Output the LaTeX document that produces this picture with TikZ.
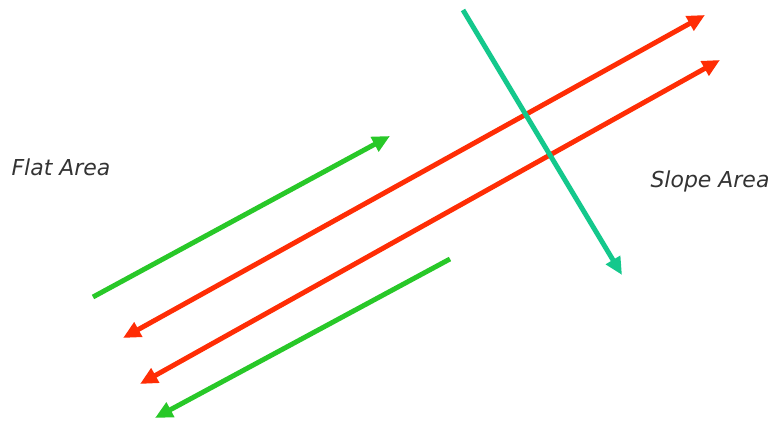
\documentclass[tikz,border=0pt]{standalone}
\usepackage{fontspec}
\setsansfont{DejaVu Sans}
\usetikzlibrary{arrows.meta}
\definecolor{rouge}{RGB}{255,45,5}
\definecolor{vert}{RGB}{40,200,40}
\definecolor{turquoise}{RGB}{20,200,140}
\tikzset{
  fleche/.style={line width=2.8pt,-{Triangle[length=10pt,width=9pt]}},
  double fleche/.style={line width=2.8pt,{Triangle[length=10pt,width=9pt]}-{Triangle[length=10pt,width=9pt]}},
  zone/.style={font=\sffamily\itshape\fontsize{12.5}{14}\selectfont,text=black!80}
}
\begin{document}
\begin{tikzpicture}[scale=1]
\useasboundingbox (0,0) rectangle (15.38,8.5);%cadre
\node[zone] (plat) at (1.22,5.16){Flat Area};
\node[zone] (pente) at (14.2,4.88){Slope Area};
%extremites des fleches
\coordinate (v1a) at (1.86,2.56);
\coordinate (v1b) at (7.80,5.78);
\coordinate (r1a) at (2.46,1.74);
\coordinate (r1b) at (14.10,8.20);
\coordinate (r2a) at (2.80,0.82);
\coordinate (r2b) at (14.40,7.30);
\coordinate (v2a) at (9.00,3.32);
\coordinate (v2b) at (3.10,0.14);
\coordinate (ta) at (9.26,8.30);
\coordinate (tb) at (12.44,3.00);
\draw[fleche,color=vert] (v1a) -- (v1b);%vert haut
\draw[double fleche,color=rouge] (r1a) -- (r1b);%rouge 1
\draw[double fleche,color=rouge] (r2a) -- (r2b);%rouge 2
\draw[fleche,color=vert] (v2a) -- (v2b);%vert bas
\draw[fleche,color=turquoise] (ta) -- (tb);%turquoise
\end{tikzpicture}
\end{document}
